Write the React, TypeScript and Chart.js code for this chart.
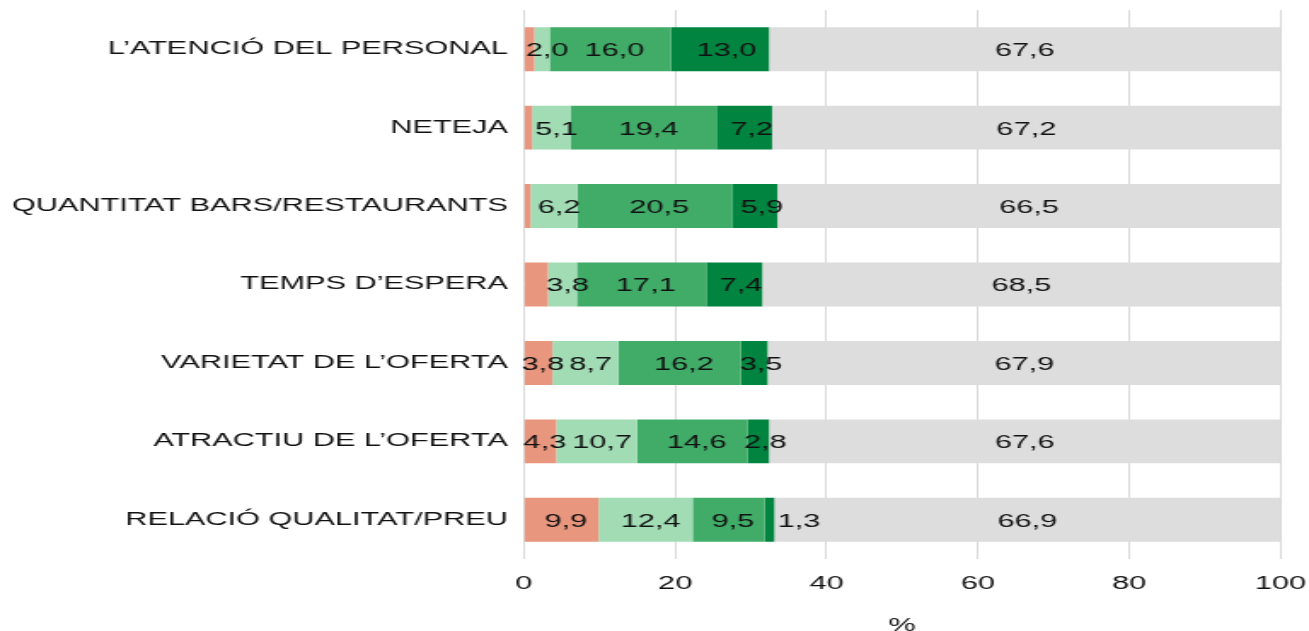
import React, { useEffect, useRef } from "react";
import { Chart, registerables } from "chart.js";

Chart.register(...registerables);

const categories = [
  "L’ATENCIÓ DEL PERSONAL",
  "NETEJA",
  "QUANTITAT BARS/RESTAURANTS",
  "TEMPS D’ESPERA",
  "VARIETAT DE L’OFERTA",
  "ATRACTIU DE L’OFERTA",
  "RELACIÓ QUALITAT/PREU",
];
const seriesNames = ["Molt dolent", "Dolent", "Bo", "Molt bo", "NS/NC"];
const veryBad = [1.4, 1.1, 0.9, 3.2, 3.8, 4.3, 9.9];
const bad = [2.0, 5.1, 6.2, 3.8, 8.7, 10.7, 12.4];
const good = [16.0, 19.4, 20.5, 17.1, 16.2, 14.6, 9.5];
const veryGood = [13.0, 7.2, 5.9, 7.4, 3.5, 2.8, 1.3];
const noAnswer = [67.6, 67.2, 66.5, 68.5, 67.9, 67.6, 66.9];
const xTickMin = 0;
const xTickMax = 100;
const xTickStep = 20;
const axisTitle = "%";

const colors = ["#E9967E", "#A1DCB5", "#41AB68", "#00843F", "#DDDDDD"];
const labelShift = [2.5, 3, 2.5, 4, 0];
const minLabelValue = [3.5, 0, 0, 0, 0];

const FONT = '"Liberation Sans", Arial, Helvetica, sans-serif';
const STRETCH = 1.705;
const OUT_W = 1309;
const OUT_H = 631;
const W = Math.round(OUT_W / STRETCH);
const PLOT_LEFT = 524 / STRETCH;
const PLOT_RIGHT_PAD = W - 1281 / STRETCH;

const labelPlugin = {
  id: "segLabels",
  afterDatasetsDraw(chart: any) {
    const ctx = chart.ctx;
    ctx.save();
    ctx.font = `18px ${FONT}`;
    ctx.fillStyle = "#111111";
    ctx.textBaseline = "middle";
    ctx.textAlign = "center";
    chart.data.datasets.forEach((ds: any, di: number) => {
      const meta = chart.getDatasetMeta(di);
      meta.data.forEach((bar: any, i: number) => {
        const v = ds.data[i] as number;
        if (v < minLabelValue[di]) return;
        const { x, base, y } = bar.getProps(["x", "base", "y"], true);
        const left = Math.min(x, base);
        const right = Math.max(x, base);
        const text = v.toFixed(1).replace(".", ",");
        const tw = ctx.measureText(text).width;
        let cx = (left + right) / 2 + labelShift[di];
        if (right - left < tw * 0.3) cx = right + tw / 2 + 2;
        ctx.fillText(text, cx, y + 2);
      });
    });
    ctx.restore();
  },
};

export default function App() {
  const ref = useRef<HTMLCanvasElement | null>(null);

  useEffect(() => {
    if (!ref.current) return;
    const data = [veryBad, bad, good, veryGood, noAnswer];
    const chart = new Chart(ref.current, {
      type: "bar",
      data: {
        labels: categories,
        datasets: data.map((d, i) => ({
          label: seriesNames[i],
          data: d,
          backgroundColor: colors[i],
          borderWidth: 0,
          barPercentage: 0.56,
          categoryPercentage: 1,
        })),
      },
      options: {
        indexAxis: "y",
        responsive: false,
        animation: false,
        layout: { padding: { top: 10, right: PLOT_RIGHT_PAD, left: 0, bottom: 0 } },
        plugins: {
          legend: { display: false },
          tooltip: { enabled: false },
        },
        scales: {
          x: {
            stacked: true,
            min: xTickMin,
            max: xTickMax,
            ticks: {
              stepSize: xTickStep,
              color: "#111111",
              font: { family: FONT, size: 18 },
              padding: 14,
              maxRotation: 0,
            },
            grid: { color: "#D9D9D9", lineWidth: 1, drawTicks: false },
            border: { display: false },
            title: {
              display: true,
              text: axisTitle,
              color: "#111111",
              font: { family: FONT, size: 18 },
              padding: { top: 0, bottom: -6 },
            },
            afterFit(scale: any) {
              scale.height = 72;
              scale.paddingLeft = 0;
              scale.paddingRight = 0;
            },
          },
          y: {
            stacked: true,
            ticks: {
              color: "#111111",
              font: { family: FONT, size: 18 },
              padding: 9.4,
            },
            grid: { display: false, drawTicks: false },
            border: { display: false },
            afterFit(scale: any) {
              scale.width = PLOT_LEFT;
              scale.paddingTop = 0;
              scale.paddingBottom = 0;
            },
          },
        },
      },
      plugins: [labelPlugin],
    } as any);
    return () => chart.destroy();
  }, []);

  return (
    <div style={{ position: "absolute", left: 0, top: 0, width: OUT_W, height: OUT_H, background: "#ffffff" }}>
      <canvas
        ref={ref}
        width={W}
        height={OUT_H}
        style={{ width: `${OUT_W}px`, height: `${OUT_H}px`, display: "block" }}
      />
    </div>
  );
}
